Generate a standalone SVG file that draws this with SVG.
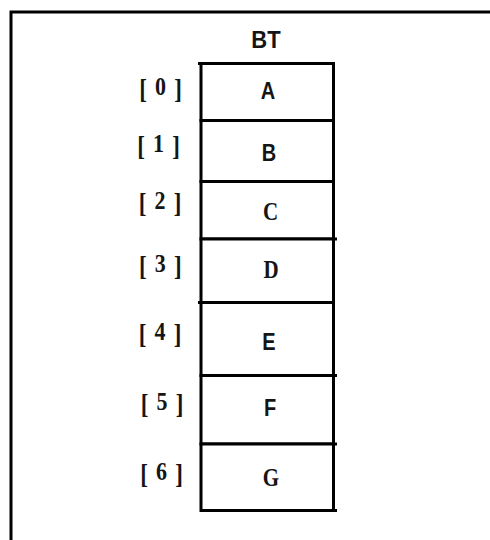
<svg xmlns="http://www.w3.org/2000/svg" width="490" height="540" viewBox="0 0 490 540">
  <style>
    .frame { fill: none; stroke: #000; stroke-width: 3; }
    .cell rect { fill: #fff; stroke: #000; stroke-width: 3; }
    .tick { stroke: #000; stroke-width: 3; }
    .val { font-family: "Liberation Sans", Arial, sans-serif; font-size: 20px; font-weight: bold; fill: #151515; text-anchor: middle; }
    .val.serif { font-family: "Liberation Serif", "Times New Roman", serif; font-size: 21px; }
    .idx { font-family: "Liberation Serif", "Times New Roman", serif; font-size: 23px; font-weight: bold; fill: #151515; text-anchor: middle; }
    .idx .n { font-size: 22px; }
    .title { font-family: "Liberation Sans", Arial, sans-serif; font-size: 22px; font-weight: bold; fill: #151515; text-anchor: middle; }
  </style>
  <rect width="490" height="540" fill="#fff"/>

  <!-- page frame: open on the right and bottom -->
  <path class="frame" d="M11,540 V12 H490"/>

  <text class="title" transform="translate(266,48) scale(1,1.05)">BT</text>

  <!-- array cells BT[0..6]; index label = bracket, raised digit, bracket -->
  <g id="cell0" class="cell">
    <rect x="201" y="63.5" width="132.5" height="57"/>
    <text class="idx" transform="translate(160.5,98) scale(1,1.15)"><tspan x="-17.5" y="0">[</tspan><tspan class="n" x="0" y="-2.6">0</tspan><tspan x="17.5" y="0">]</tspan></text>
    <text class="val" transform="translate(268,99) scale(1,1.18)">A</text>
  </g>
  <g id="cell1" class="cell">
    <rect x="201" y="120.5" width="132.5" height="61"/>
    <text class="idx" transform="translate(158.5,154.5) scale(1,1.15)"><tspan x="-17.5" y="0">[</tspan><tspan class="n" x="0" y="-2.6">1</tspan><tspan x="17.5" y="0">]</tspan></text>
    <text class="val" transform="translate(269,161) scale(1,1.18)">B</text>
  </g>
  <g id="cell2" class="cell">
    <rect x="201" y="181.5" width="132.5" height="57.5"/>
    <text class="idx" transform="translate(160,212) scale(1,1.15)"><tspan x="-17.5" y="0">[</tspan><tspan class="n" x="0" y="-2.6">2</tspan><tspan x="17.5" y="0">]</tspan></text>
    <text class="val serif" transform="translate(270.5,220) scale(1,1.18)">C</text>
  </g>
  <g id="cell3" class="cell">
    <rect x="201" y="239" width="132.5" height="63.5"/>
    <text class="idx" transform="translate(160.3,274.5) scale(1,1.15)"><tspan x="-17.5" y="0">[</tspan><tspan class="n" x="0" y="-2.6">3</tspan><tspan x="17.5" y="0">]</tspan></text>
    <text class="val serif" transform="translate(271,278) scale(1,1.18)">D</text>
  </g>
  <g id="cell4" class="cell">
    <rect x="201" y="302.5" width="132.5" height="73"/>
    <text class="idx" transform="translate(160,343) scale(1,1.15)"><tspan x="-17.5" y="0">[</tspan><tspan class="n" x="0" y="-2.6">4</tspan><tspan x="17.5" y="0">]</tspan></text>
    <text class="val" transform="translate(269,350) scale(1,1.18)">E</text>
  </g>
  <g id="cell5" class="cell">
    <rect x="201" y="375.5" width="132.5" height="68.5"/>
    <text class="idx" transform="translate(162,412.5) scale(1,1.15)"><tspan x="-17.5" y="0">[</tspan><tspan class="n" x="0" y="-2.6">5</tspan><tspan x="17.5" y="0">]</tspan></text>
    <text class="val" transform="translate(270,416) scale(1,1.18)">F</text>
  </g>
  <g id="cell6" class="cell">
    <rect x="201" y="444" width="132.5" height="66.5"/>
    <text class="idx" transform="translate(161.5,483) scale(1,1.15)"><tspan x="-17.5" y="0">[</tspan><tspan class="n" x="0" y="-2.6">6</tspan><tspan x="17.5" y="0">]</tspan></text>
    <text class="val serif" transform="translate(271,486) scale(1,1.18)">G</text>
  </g>

  <!-- small overshoots of the hand-drawn dividers -->
  <g id="overshoots">
    <line class="tick" x1="198" y1="63.5" x2="202" y2="63.5"/>
    <line class="tick" x1="332" y1="239" x2="337" y2="239"/>
    <line class="tick" x1="198" y1="302.5" x2="202" y2="302.5"/>
    <line class="tick" x1="332" y1="375.5" x2="337" y2="375.5"/>
    <line class="tick" x1="332" y1="444" x2="337" y2="444"/>
    <line class="tick" x1="332" y1="510.5" x2="337" y2="510.5"/>
  </g>
</svg>
